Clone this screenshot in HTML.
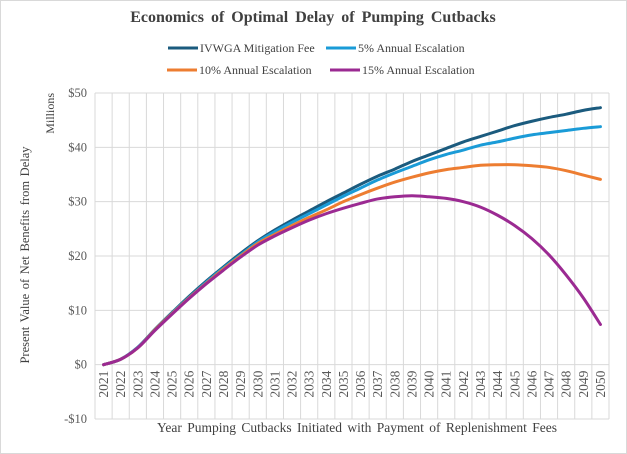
<!DOCTYPE html>
<html><head><meta charset="utf-8"><style>
body{margin:0;background:#fff;}
svg{display:block;font-family:"Liberation Serif",serif;}
</style></head><body>
<svg id="c" width="627" height="454">
<rect x="0.5" y="0.5" width="626" height="453" fill="#fff" stroke="#d9d9d9"/>
<text x="313" y="22" text-anchor="middle" font-size="16" font-weight="bold" word-spacing="3" fill="#404040">Economics of Optimal Delay of Pumping Cutbacks</text>
<g id="legend" font-size="12" fill="#404040">
<line x1="168" y1="48" x2="198" y2="48" stroke="#1b5b7e" stroke-width="3"/><text x="200" y="52">IVWGA Mitigation Fee</text>
<line x1="326" y1="48" x2="356" y2="48" stroke="#1a9bd7" stroke-width="3"/><text x="358" y="52">5% Annual Escalation</text>
<line x1="167" y1="70" x2="197" y2="70" stroke="#ed7d31" stroke-width="3"/><text x="199" y="74">10% Annual Escalation</text>
<line x1="330" y1="70" x2="360" y2="70" stroke="#9b2a92" stroke-width="3"/><text x="362" y="74">15% Annual Escalation</text>
</g>
<g id="grid"></g><g id="axes"></g><g id="series"></g>
<text transform="translate(29,255) rotate(-90)" text-anchor="middle" font-size="12.5" word-spacing="1.5" fill="#404040">Present Value of Net Benefits from Delay</text>
<text transform="translate(54,93) rotate(-90)" text-anchor="end" font-size="12" fill="#404040">Millions</text>
<text x="357" y="432" text-anchor="middle" font-size="13.5" word-spacing="2" fill="#404040">Year Pumping Cutbacks Initiated with Payment of Replenishment Fees</text>
</svg>
<script>
const years=[];for(let y=2021;y<=2050;y++)years.push(y);
const yTicks=[-10,0,10,20,30,40,50];
const yTickLabels=["-$10","$0","$10","$20","$30","$40","$50"];
const ivwga=[0,1,3.2,6.5,9.6,12.6,15.4,18,20.5,22.8,24.8,26.6,28.3,30,31.6,33.2,34.7,36,37.4,38.6,39.8,41,42,43,44,44.8,45.5,46.1,46.8,47.3];
const esc5=[0,1,3.2,6.4,9.5,12.4,15.2,17.8,20.2,22.6,24.5,26.2,27.8,29.4,31,32.5,34,35.3,36.5,37.7,38.7,39.5,40.4,41,41.7,42.3,42.7,43.1,43.5,43.8];
const esc10=[0,1,3.1,6.4,9.4,12.3,15,17.6,20,22.3,24,25.6,27.1,28.5,30,31.3,32.5,33.6,34.5,35.3,35.9,36.3,36.7,36.8,36.8,36.6,36.3,35.7,34.9,34.1];
const esc15=[0,1,3.1,6.3,9.3,12.2,14.9,17.4,19.8,22,23.7,25.2,26.6,27.8,28.8,29.7,30.5,30.9,31.1,30.9,30.6,30,29,27.5,25.6,23.2,20.2,16.5,12.3,7.4];
const L=95,R=609,T=93,B=419,ymin=-10,ymax=50;
const bw=(R-L)/years.length;
const xs=i=>L+bw*(i+0.5);
const ys=v=>B-(v-ymin)/(ymax-ymin)*(B-T);
const NS="http://www.w3.org/2000/svg";
function mk(t,a,p){const e=document.createElementNS(NS,t);for(const k in a)e.setAttribute(k,a[k]);p.appendChild(e);return e;}
const grid=document.getElementById('grid'),axes=document.getElementById('axes'),ser=document.getElementById('series');
yTicks.forEach((v,i)=>{
 const l=mk('line',{x1:L,x2:R,y1:ys(v),y2:ys(v),stroke:'#d9d9d9','stroke-width':1},grid);
 
 
 const t=mk('text',{x:L-8,y:ys(v)+4,'text-anchor':'end','font-size':12.5,fill:'#595959'},axes);
 t.textContent=yTickLabels[i];
 
 
});
for(let i=0;i<=years.length;i++){
 const x=L+bw*i;
 const l=mk('line',{x1:x,x2:x,y1:T,y2:B,stroke:'#d9d9d9','stroke-width':1},grid);
 
 
}
years.forEach((y,i)=>{
 const t=mk('text',{transform:`translate(${xs(i)+4.5},${ys(0)+6}) rotate(-90)`,'text-anchor':'end','font-size':13.5,fill:'#595959'},axes);
 t.textContent=y;
 
 
});
function path(d){
 const p=d.map((v,i)=>[xs(i),ys(v)]);
 let s=`M${p[0][0]},${p[0][1]}`;
 for(let i=0;i<p.length-1;i++){
  const p0=p[i-1]||p[i],p1=p[i],p2=p[i+1],p3=p[i+2]||p2;
  s+=`C${p1[0]+(p2[0]-p0[0])/6},${p1[1]+(p2[1]-p0[1])/6} ${p2[0]-(p3[0]-p1[0])/6},${p2[1]-(p3[1]-p1[1])/6} ${p2[0]},${p2[1]}`;
 }
 return s;
}
[[ivwga,'#1b5b7e','line-ivwga'],[esc5,'#1a9bd7','line-5pct'],[esc10,'#ed7d31','line-10pct'],[esc15,'#9b2a92','line-15pct']].forEach(([d,c,n])=>{
 const e=mk('path',{d:path(d),fill:'none',stroke:c,'stroke-width':3,'stroke-linecap':'round'},ser);
 
 
});
</script>
</body></html>
